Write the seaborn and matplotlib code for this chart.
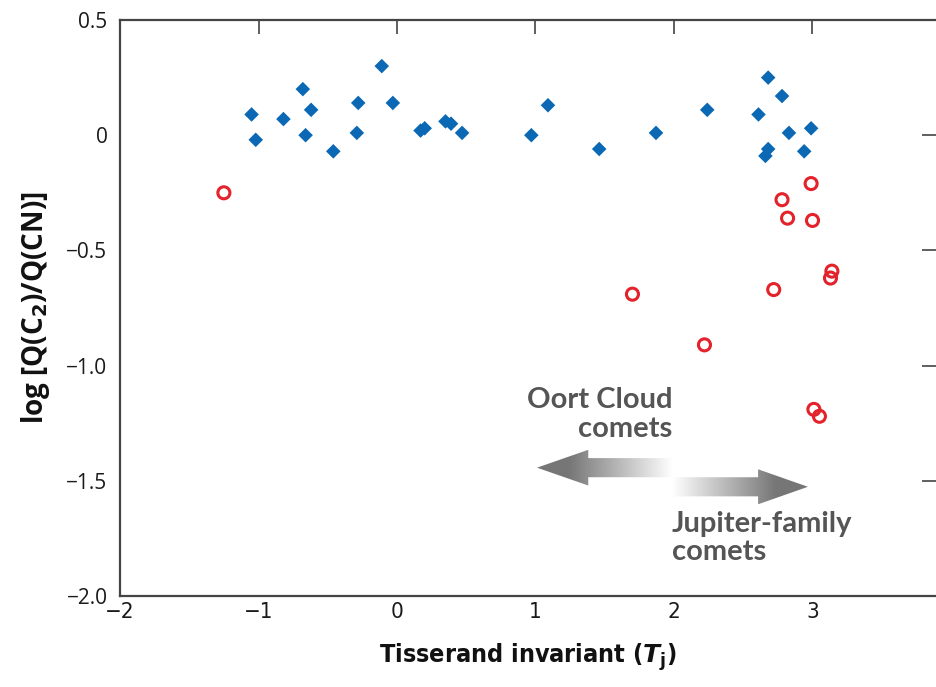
import numpy as np
import pandas as pd
import matplotlib
matplotlib.use("Agg")
import matplotlib.pyplot as plt
from matplotlib.patches import FancyArrow
from matplotlib import font_manager as fm
import seaborn as sns

# ---- data ----
oort_tj = [-1.05, -1.02, -0.82, -0.68, -0.66, -0.62, -0.46, -0.28, -0.29, -0.11,
           -0.03, 0.17, 0.20, 0.35, 0.39, 0.47, 0.97, 1.09, 1.46, 1.87, 2.24,
           2.61, 2.68, 2.78, 2.83, 2.99, 2.68, 2.66, 2.94]
oort_ratio = [0.09, -0.02, 0.07, 0.20, 0.00, 0.11, -0.07, 0.14, 0.01, 0.30,
              0.14, 0.02, 0.03, 0.06, 0.05, 0.01, 0.00, 0.13, -0.06, 0.01, 0.11,
              0.09, 0.25, 0.17, 0.01, 0.03, -0.06, -0.09, -0.07]
jfc_tj = [-1.25, 2.99, 2.78, 2.82, 3.00, 3.14, 3.13, 1.70, 2.72, 2.22, 3.01, 3.05]
jfc_ratio = [-0.25, -0.21, -0.28, -0.36, -0.37, -0.59, -0.62, -0.69, -0.67, -0.91,
             -1.19, -1.22]

x_ticks = [-2, -1, 0, 1, 2, 3]
x_tick_labels = ["\u22122", "\u22121", "0", "1", "2", "3"]
y_ticks = [0.5, 0, -0.5, -1.0, -1.5, -2.0]
y_tick_labels = ["0.5", "0", "\u22120.5", "\u22121.0", "\u22121.5", "\u22122.0"]

df_oort = pd.DataFrame({"Tj": oort_tj, "ratio": oort_ratio})
df_jfc = pd.DataFrame({"Tj": jfc_tj, "ratio": jfc_ratio})

sns.set_theme(style="white")
plt.rcParams["font.family"] = ["Open Sans", "DejaVu Sans"]
plt.rcParams["mathtext.fontset"] = "custom"
plt.rcParams["mathtext.rm"] = "DejaVu Sans:bold"
plt.rcParams["mathtext.bf"] = "DejaVu Sans:bold"
plt.rcParams["mathtext.it"] = "DejaVu Sans:bold:italic"

# condensed font files if available
cond_bold = None
cond_reg = None
for f in fm.findSystemFonts():
    name = f.split("/")[-1]
    if name == "DejaVuSansCondensed-Bold.ttf":
        cond_bold = f
    if name == "DejaVuSansCondensed.ttf":
        cond_reg = f
fp_xlabel = fm.FontProperties(fname=cond_bold, size=18) if cond_bold else \
    fm.FontProperties(family="DejaVu Sans", weight="bold", size=17)
fp_xtick = fm.FontProperties(fname=cond_reg, size=16) if cond_reg else \
    fm.FontProperties(family="DejaVu Sans", size=15)

fig = plt.figure(figsize=(9.36, 6.87), dpi=100)
ax = fig.add_axes([120 / 936, 1 - 596 / 687, 1 - 120 / 936, (596 - 20) / 687])

sns.scatterplot(data=df_oort, x="Tj", y="ratio", ax=ax, marker="D", s=55,
                color="#0a68b4", edgecolor="none", zorder=3)
sns.scatterplot(data=df_jfc, x="Tj", y="ratio", ax=ax, marker="o", s=75,
                facecolor="none", edgecolor="#e3222b", linewidth=2.2, zorder=3)

for side in ["left", "top", "bottom"]:
    ax.spines[side].set_color("#444444")
    ax.spines[side].set_linewidth(1.6)
ax.spines["right"].set_visible(False)

ax.set_xticks(x_ticks)
ax.set_xticklabels(x_tick_labels)
ax.set_yticks(y_ticks)
ax.set_yticklabels(y_tick_labels)
ax.tick_params(axis="both", direction="in", length=10, width=1.2, color="#444444",
               top=True, right=True, labelsize=15, labelcolor="#1a1a1a")
ax.tick_params(axis="y", pad=9)
ax.tick_params(axis="x", pad=4)
for lab in ax.get_xticklabels():
    lab.set_fontproperties(fp_xtick)

ax.set_xlabel(r"Tisserand invariant ($T_{\mathrm{j}}$)", fontproperties=fp_xlabel,
              labelpad=14, color="#111111")
ax.set_ylabel("log [Q(C$_{\\mathbf{2}}$)/Q(CN)]", fontsize=20, fontweight="bold",
              family=["Open Sans", "DejaVu Sans"], labelpad=10, color="#111111")


def grad_arrow(x0, x1, y, width, head_width, head_length):
    arr = FancyArrow(x0, y, x1 - x0, 0, width=width, head_width=head_width,
                     head_length=head_length, length_includes_head=True,
                     facecolor="none", edgecolor="none", transform=ax.transData)
    ax.add_patch(arr)
    lo, hi = min(x0, x1), max(x0, x1)
    g = np.linspace(0, 1, 256)
    vals = 1 - g if x1 < x0 else g
    vals = np.clip(vals * 1.3, 0, 1)
    cmap = matplotlib.colors.LinearSegmentedColormap.from_list("g", ["#ffffff", "#767676"])
    img = ax.imshow(vals[np.newaxis, :], extent=[lo, hi, y - head_width / 2, y + head_width / 2],
                    cmap=cmap, vmin=0, vmax=1, aspect="auto", zorder=2, interpolation="bicubic")
    img.set_clip_path(arr)


grad_arrow(1.986, 1.011, -1.443, 0.083, 0.155, 0.37)
grad_arrow(1.986, 2.967, -1.526, 0.083, 0.152, 0.36)

ax.text(1.986, -1.095, "Oort Cloud\ncomets", ha="right", va="top", fontsize=21,
        fontweight="bold", color="#555555", linespacing=1.12,
        family=["Lato", "DejaVu Sans"])
ax.text(1.986, -1.63, "Jupiter-family\ncomets", ha="left", va="top", fontsize=21,
        fontweight="bold", color="#555555", linespacing=1.12,
        family=["Lato", "DejaVu Sans"])

ax.set_xlim(-2, -2 + (936 - 120) / 138.5)
ax.set_ylim(-2.0, 0.5)

fig.savefig("out.png", dpi=100)
